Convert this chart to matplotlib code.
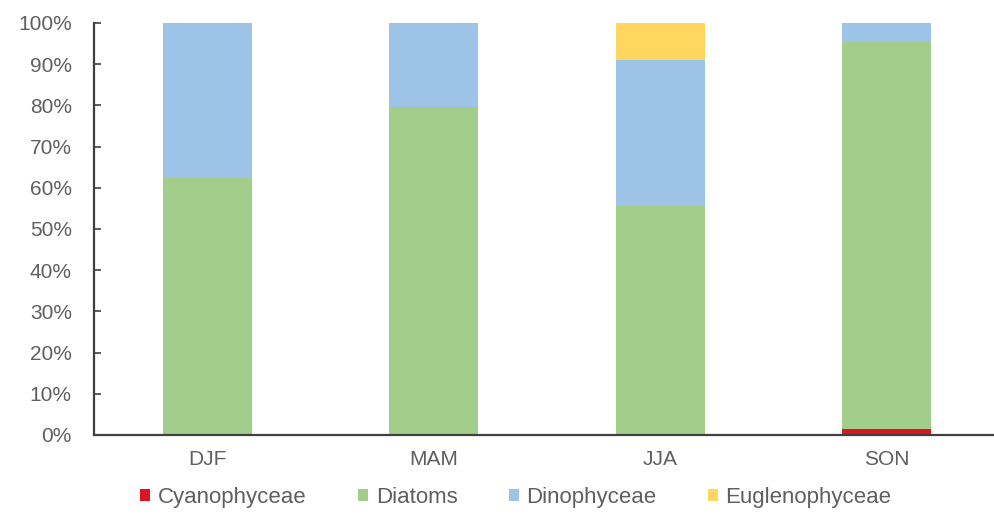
import matplotlib.pyplot as plt
import numpy as np

plt.rcParams['font.family'] = ['Liberation Sans', 'DejaVu Sans']

seasons = ['DJF', 'MAM', 'JJA', 'SON']
groups = ['Cyanophyceae', 'Diatoms', 'Dinophyceae', 'Euglenophyceae']
cyano = [0.0, 0.0, 0.0, 1.5]
diatoms = [62.5, 79.5, 55.5, 94.0]
dino = [37.5, 20.5, 35.5, 4.5]
eugleno = [0.0, 0.0, 9.0, 0.0]
colours = ['#dc1420', '#a2cd8a', '#9dc3e6', '#ffd660']

fig = plt.figure(figsize=(9.94, 5.15), dpi=100)
# axis runs a bit past the right edge, like the cropped original
ax = fig.add_axes([94 / 994, 80 / 515, 906 / 994, 412 / 515])

x = np.arange(len(seasons))
bottom = np.zeros(len(seasons))
for name, vals, col in zip(groups, [cyano, diatoms, dino, eugleno], colours):
    ax.bar(x, vals, width=0.393, bottom=bottom, color=col, label=name)
    bottom += np.array(vals)

ax.set_xlim(-0.5, 3.5)
ax.set_ylim(0, 100)
ax.set_yticks(np.arange(0, 101, 10))
ax.set_yticklabels([f'{v}%' for v in range(0, 101, 10)])
ax.set_xticks(x)
ax.set_xticklabels(seasons)
ax.tick_params(axis='y', labelcolor='#5f5f5f', color='#404040', labelsize=15,
               length=5, width=1.2, direction='in', pad=16)
ax.tick_params(axis='x', labelcolor='#5f5f5f', labelsize=15, length=0, pad=11)

for s in ['top', 'right']:
    ax.spines[s].set_visible(False)
for s in ['left', 'bottom']:
    ax.spines[s].set_color('#404040')
    ax.spines[s].set_linewidth(1.6)

leg = ax.legend(loc='center', bbox_to_anchor=(0.519, 0.034), bbox_transform=fig.transFigure,
                ncol=4, frameon=False, fontsize=16, handlelength=0.45, handleheight=0.45,
                handletextpad=0.35, columnspacing=2.3, borderpad=0)
for t in leg.get_texts():
    t.set_color('#5f5f5f')

fig.savefig('out.png', dpi=100)
